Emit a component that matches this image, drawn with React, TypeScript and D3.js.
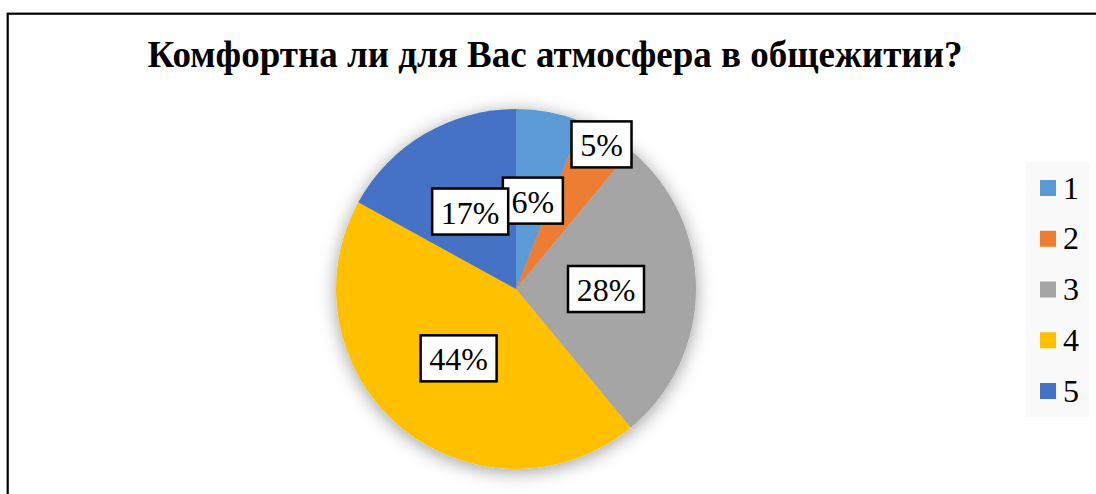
import React from "react";
import * as d3 from "d3";

const title = "Комфортна ли для Вас атмосфера в общежитии?";
const categories = ["1", "2", "3", "4", "5"];
const values = [6, 5, 28, 44, 17];
const colors = ["#5B9BD5", "#ED7D31", "#A5A5A5", "#FFC000", "#4472C4"];

const W = 1096;
const H = 494;
const cx = 516;
const cy = 289;
const R = 180;
const FONT = "Liberation Serif, Times New Roman, DejaVu Serif, serif";
const LABEL_FS = 32;

export default function App() {
  const pie = d3.pie<number>().sort(null).value((d) => d);
  const arcs = pie(values);
  const arcGen = d3.arc<d3.PieArcDatum<number>>().innerRadius(0).outerRadius(R);
  const total = d3.sum(values);

  const placed: { x: number; y: number; w: number; h: number; text: string }[] = [];
  arcs.forEach((a, i) => {
    const text = `${Math.round((a.data / total) * 100)}%`;
    const w = text.length === 2 ? 60 : 76;
    const h = 46;
    const mid = (a.startAngle + a.endAngle) / 2;
    let d = R * 0.5;
    const pos = (dd: number) => ({ x: cx + Math.sin(mid) * dd, y: cy - Math.cos(mid) * dd });
    let p = pos(d);
    const prev = placed[i - 1];
    if (prev) {
      const overlaps = (q: { x: number; y: number }) =>
        Math.abs(q.x - prev.x) < (w + prev.w) / 2 + 10 && Math.abs(q.y - prev.y) < (h + prev.h) / 2 + 10;
      while (overlaps(p) && d < R * 1.2) {
        d += 0.5;
        p = pos(d);
      }
    }
    placed.push({ x: p.x, y: p.y, w, h, text });
  });

  const legendY = d3.scalePoint<string>().domain(categories).range([188, 391]);
  const txt = { fontFamily: FONT };

  return (
    <svg
      width={W}
      height={H}
      style={{ position: "fixed", left: 0, top: 0, background: "#fff" }}
    >
      <defs>
        <filter id="shadow" x="-30%" y="-30%" width="160%" height="160%">
          <feDropShadow dx="0" dy="3" stdDeviation="9" floodColor="#000" floodOpacity="0.38" />
        </filter>
      </defs>
      <rect x={0} y={0} width={W} height={H} fill="#fff" />
      <rect x={7.7} y={13.7} width={1110} height={520} fill="#fff" stroke="#000" strokeWidth={2.2} />
      <text x={555} y={67} textAnchor="middle" fontSize={37} fontWeight="bold" fill="#000" style={txt}>
        {title}
      </text>
      <g filter="url(#shadow)">
        {arcs.map((a, i) => (
          <path key={i} d={arcGen(a) || ""} transform={`translate(${cx},${cy})`} fill={colors[i]} />
        ))}
      </g>
      {placed.map((l, i) => (
        <g key={i}>
          <rect
            x={l.x - l.w / 2}
            y={l.y - l.h / 2}
            width={l.w}
            height={l.h}
            fill="#fff"
            stroke="#000"
            strokeWidth={2.5}
          />
          <text x={l.x} y={l.y + 12} textAnchor="middle" fontSize={LABEL_FS} fill="#000" style={txt}>
            {l.text}
          </text>
        </g>
      ))}
      <rect x={1026} y={162} width={64} height={255} fill="#F9F9F9" />
      {categories.map((c, i) => (
        <g key={c}>
          <rect x={1040} y={(legendY(c) as number) - 8} width={16} height={16} fill={colors[i]} />
          <text x={1063} y={(legendY(c) as number) + 10.5} fontSize={32} fill="#000" style={txt}>
            {c}
          </text>
        </g>
      ))}
    </svg>
  );
}
